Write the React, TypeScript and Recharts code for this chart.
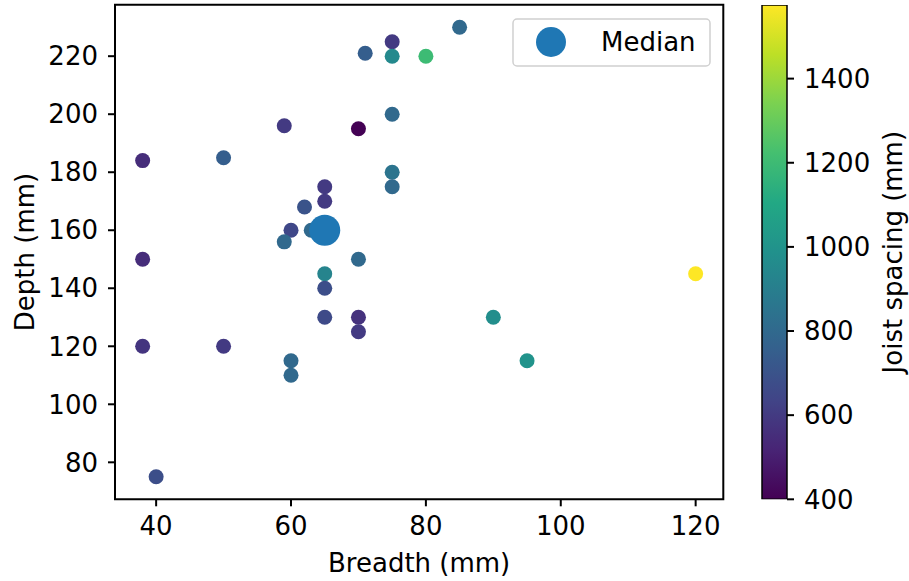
import React from 'react';
import {
  ScatterChart,
  Scatter,
  BarChart,
  Bar,
  XAxis,
  YAxis,
  ReferenceArea,
  Legend,
} from 'recharts';

// timber joist survey: breadth x depth, coloured by spacing
const breadth = [85, 75, 71, 75, 80, 75, 59, 70, 38, 50, 75, 75, 65, 65, 62, 60, 63, 59, 38, 70, 65, 65, 65, 70, 70, 90, 38, 50, 60, 60, 95, 120, 40];
const depth = [230, 225, 221, 220, 220, 200, 196, 195, 184, 185, 180, 175, 175, 170, 168, 160, 160, 156, 150, 150, 145, 140, 130, 130, 125, 130, 120, 120, 115, 110, 115, 145, 75];
const spacing = [800, 600, 750, 950, 1200, 800, 600, 400, 550, 750, 850, 800, 600, 600, 700, 650, 800, 800, 550, 800, 925, 680, 660, 570, 600, 975, 580, 600, 800, 800, 1000, 1575, 680];

const medianBreadth = [65];
const medianDepth = [160];

const xTicks = [40, 60, 80, 100, 120];
const yTicks = [80, 100, 120, 140, 160, 180, 200, 220];
const cbTicks = [400, 600, 800, 1000, 1200, 1400];

const W = 909;
const H = 581;
const FONT = 'DejaVu Sans';
const FS = 26;

const VIRIDIS = ['#440154', '#482475', '#414487', '#355f8d', '#2a788e', '#21918c', '#22a884', '#44bf70', '#7ad151', '#bddf26', '#fde725'];

function hexToRgb(h: string) {
  const n = parseInt(h.slice(1), 16);
  return [(n >> 16) & 255, (n >> 8) & 255, n & 255];
}

function viridis(t: number) {
  const c = Math.max(0, Math.min(1, t)) * 10;
  const i = Math.min(9, Math.floor(c));
  const f = c - i;
  const a = hexToRgb(VIRIDIS[i]);
  const b = hexToRgb(VIRIDIS[i + 1]);
  const m = a.map((v, k) => Math.round(v + (b[k] - v) * f));
  return `rgb(${m[0]},${m[1]},${m[2]})`;
}

const vmin = Math.min(...spacing);
const vmax = Math.max(...spacing);

// matplotlib-style 5% margins
function pad(vals: number[]): [number, number] {
  const lo = Math.min(...vals);
  const hi = Math.max(...vals);
  const m = (hi - lo) * 0.05;
  return [lo - m, hi + m];
}
const xDomain = pad(breadth);
const yDomain = pad(depth);

const points = breadth.map((b, i) => ({ breadth: b, depth: depth[i], spacing: spacing[i] }));
const medianPoints = medianBreadth.map((b, i) => ({ breadth: b, depth: medianDepth[i] }));
const cbData = [{ name: 'cb', range: [vmin, vmax] }];

const tickStyle = { fontSize: FS, fill: '#000', fontFamily: FONT };

const LegendBox = () => (
  <svg width={200} height={50} style={{ display: 'block' }}>
    <rect x={1} y={1} width={197} height={47} rx={4} fill="#fff" stroke="#d0d0d0" strokeWidth={1.5} />
    <circle cx={39} cy={24} r={15} fill="#1f77b4" />
    <text x={89} y={24} dominantBaseline="central" fontSize={FS} fontFamily={FONT} fill="#000">
      Median
    </text>
  </svg>
);

export default function App() {
  return (
    <div style={{ position: 'absolute', left: 0, top: 0, width: W, height: H, background: '#fff' }}>
      <div style={{ position: 'absolute', left: 0, top: 0 }}>
        <ScatterChart
          width={W}
          height={H}
          margin={{ top: 4.7, right: W - 723.3, bottom: 0, left: 0 }}
          style={{ fontFamily: FONT }}
        >
          <XAxis
            type="number"
            dataKey="breadth"
            domain={xDomain}
            ticks={xTicks}
            allowDataOverflow
            height={H - 499.3}
            axisLine={false}
            tickLine={{ stroke: '#000', strokeWidth: 2 }}
            tickSize={7}
            tickMargin={10}
            tick={tickStyle}
            label={{
              content: (p: any) => {
                const vb = p.viewBox;
                return (
                  <text
                    x={vb.x + vb.width / 2}
                    y={563}
                    textAnchor="middle"
                    dominantBaseline="central"
                    fontSize={FS}
                    fontFamily={FONT}
                    fill="#000"
                  >
                    Breadth (mm)
                  </text>
                );
              },
            }}
          />
          <YAxis
            type="number"
            dataKey="depth"
            domain={yDomain}
            ticks={yTicks}
            allowDataOverflow
            width={115}
            axisLine={false}
            tickLine={{ stroke: '#000', strokeWidth: 2 }}
            tickSize={7}
            tickMargin={10}
            tick={tickStyle}
            label={{
              content: (p: any) => {
                const vb = p.viewBox;
                const cy = vb.y + vb.height / 2;
                return (
                  <text
                    x={25}
                    y={cy}
                    transform={`rotate(-90 25 ${cy})`}
                    textAnchor="middle"
                    dominantBaseline="central"
                    fontSize={FS}
                    fontFamily={FONT}
                    fill="#000"
                  >
                    Depth (mm)
                  </text>
                );
              },
            }}
          />
          <Scatter
            name="points"
            data={points}
            legendType="none"
            isAnimationActive={false}
            shape={(p: any) => (
              <circle cx={p.cx} cy={p.cy} r={7.5} fill={viridis((p.payload.spacing - vmin) / (vmax - vmin))} />
            )}
          />
          <Scatter
            name="Median"
            data={medianPoints}
            fill="#1f77b4"
            isAnimationActive={false}
            shape={(p: any) => <circle cx={p.cx} cy={p.cy} r={15.5} fill="#1f77b4" />}
          />
          <ReferenceArea
            x1={xDomain[0]}
            x2={xDomain[1]}
            y1={yDomain[0]}
            y2={yDomain[1]}
            fill="none"
            fillOpacity={0}
            stroke="#000"
            strokeWidth={2}
            ifOverflow="visible"
          />
          <Legend
            layout="horizontal"
            verticalAlign="middle"
            align="center"
            content={() => <LegendBox />}
            wrapperStyle={{ position: 'absolute', left: 512, top: 18, width: 200, height: 50 }}
          />
        </ScatterChart>
      </div>

      {/* colour bar */}
      <div style={{ position: 'absolute', left: 0, top: 0 }}>
        <BarChart
          width={W}
          height={H}
          data={cbData}
          barCategoryGap={0}
          margin={{ top: 5, right: 0, bottom: H - 499.3, left: 762 }}
          style={{ fontFamily: FONT }}
        >
          <defs>
            <linearGradient id="viridisGrad" x1="0" y1="1" x2="0" y2="0">
              {VIRIDIS.map((c, i) => (
                <stop key={i} offset={`${i * 10}%`} stopColor={c} />
              ))}
            </linearGradient>
          </defs>
          <XAxis dataKey="name" hide />
          <YAxis
            type="number"
            orientation="right"
            domain={[vmin, vmax]}
            ticks={cbTicks}
            allowDataOverflow
            width={W - 787}
            axisLine={false}
            tickLine={{ stroke: '#000', strokeWidth: 2 }}
            tickSize={7}
            tickMargin={10}
            tick={{ ...tickStyle, textAnchor: 'start' }}
            label={{
              content: (p: any) => {
                const vb = p.viewBox;
                const cy = vb.y + vb.height / 2;
                return (
                  <text
                    x={893}
                    y={cy}
                    transform={`rotate(-90 893 ${cy})`}
                    textAnchor="middle"
                    dominantBaseline="central"
                    fontSize={FS}
                    fontFamily={FONT}
                    fill="#000"
                  >
                    Joist spacing (mm)
                  </text>
                );
              },
            }}
          />
          <Bar
            dataKey="range"
            fill="url(#viridisGrad)"
            stroke="#000"
            strokeWidth={1.5}
            isAnimationActive={false}
          />
        </BarChart>
      </div>
    </div>
  );
}
